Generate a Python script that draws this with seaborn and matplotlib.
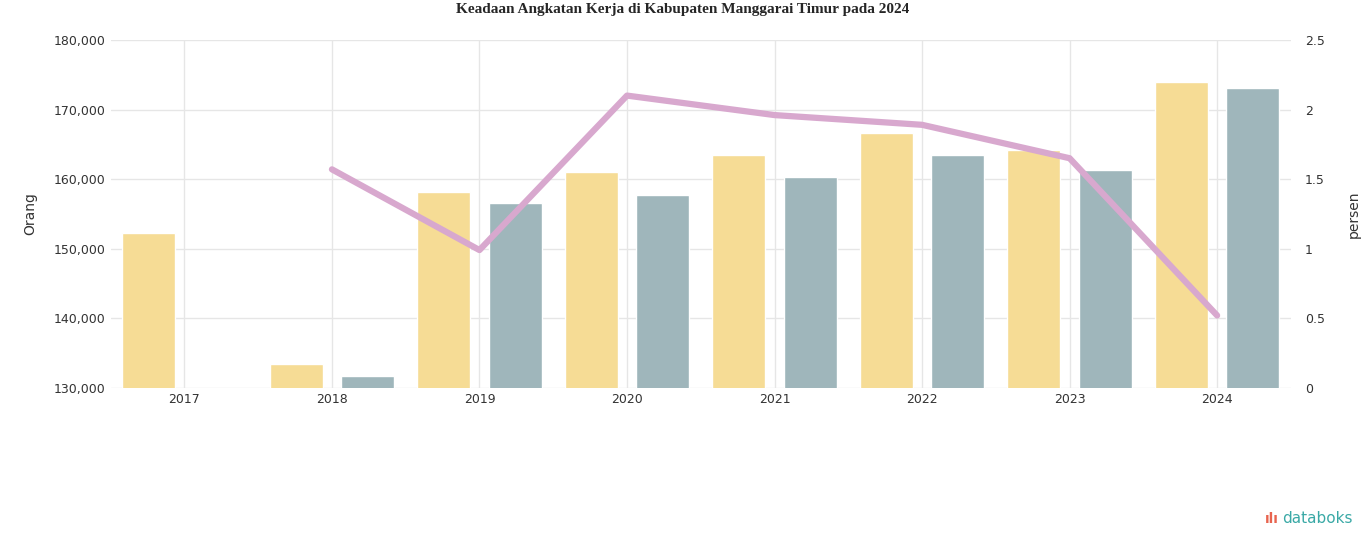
import numpy as np
import pandas as pd
import seaborn as sns
import matplotlib.pyplot as plt
from matplotlib.ticker import FuncFormatter

# data (perkiraan)
tahun = ["2017", "2018", "2019", "2020", "2021", "2022", "2023", "2024"]
angkatan_kerja = [152300, 133400, 158200, 161000, 163500, 166600, 164200, 174000]
bekerja = [np.nan, 131700, 156600, 157700, 160300, 163500, 161300, 173100]
tpt = [np.nan, 1.57, 0.99, 2.10, 1.96, 1.89, 1.65, 0.52]

df = pd.DataFrame({
    "Tahun": tahun * 2,
    "Jumlah": angkatan_kerja + bekerja,
    "Seri": ["Angkatan Kerja"] * len(tahun) + ["Bekerja"] * len(tahun),
})

sns.set_theme(style="white")
plt.rcParams["font.family"] = ["DejaVu Sans"]

fig = plt.figure(figsize=(13.66, 5.47), dpi=100)
ax = fig.add_axes([0.081, 0.291, 0.864, 0.636])

sns.barplot(data=df, x="Tahun", y="Jumlah", hue="Seri",
            palette=["#f6dc95", "#9fb6bb"], saturation=1, width=0.97, gap=0.26,
            legend=False, ax=ax)

ax.set_ylim(130000, 180000)
ax.set_yticks(range(130000, 180001, 10000))
ax.yaxis.set_major_formatter(FuncFormatter(lambda v, p: f"{int(v):,}"))
ax.grid(True, color="#e6e6e6", linewidth=1)
ax.set_axisbelow(True)
ax.set_xlabel("")
ax.set_ylabel("Orang", fontsize=10, color="#333333", labelpad=12)
ax.tick_params(axis="both", labelsize=9, colors="#333333", length=0)
for s in ax.spines.values():
    s.set_visible(False)

ax2 = ax.twinx()
sns.lineplot(x=np.arange(len(tahun)), y=tpt, color="#d8a8ce", linewidth=4.5, ax=ax2)
ax2.set_ylim(0, 2.5)
ax2.set_yticks([0, 0.5, 1, 1.5, 2, 2.5])
ax2.yaxis.set_major_formatter(FuncFormatter(lambda v, p: f"{v:g}"))
ax2.set_ylabel("persen", fontsize=10, color="#333333", labelpad=16)
ax2.tick_params(axis="y", labelsize=9, colors="#333333", length=0, pad=10)
for s in ax2.spines.values():
    s.set_visible(False)
ax.set_xlim(-0.5, len(tahun) - 0.5)

fig.text(0.5, 0.982, "Keadaan Angkatan Kerja di Kabupaten Manggarai Timur pada 2024",
         ha="center", va="center", fontsize=11, fontweight="bold",
         family=["Liberation Serif"])
fig.text(0.99, 0.052, "databoks", ha="right", va="center", fontsize=11,
         color="#3aa9a6")
fig.text(0.936, 0.052, "ılı", ha="right", va="center", fontsize=10,
         color="#e8644f", fontweight="bold")

fig.savefig("out.png", dpi=100)
